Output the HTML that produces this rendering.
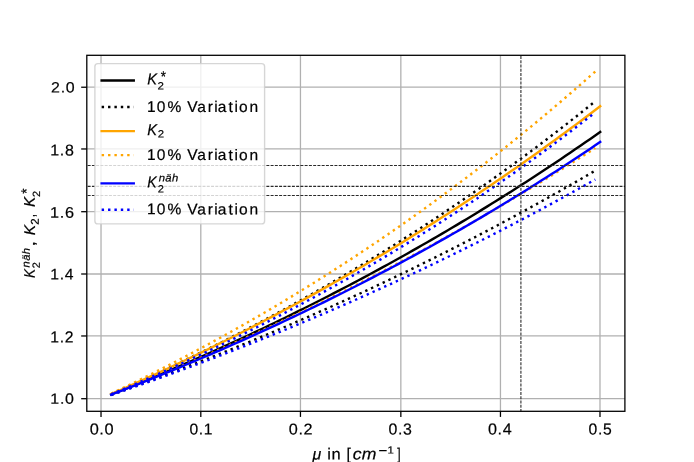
<!DOCTYPE html>
<html><head><meta charset="utf-8"><title>K2 vs mu</title>
<style>html,body{margin:0;padding:0;background:#fff;width:694px;height:462px;overflow:hidden}svg{display:block} svg{will-change:transform}text{font-family:"Liberation Sans",sans-serif;font-kerning:none;font-variant-ligatures:none}</style>
</head><body>
<svg width="694" height="462" viewBox="0 0 694 462" font-family='"Liberation Sans", sans-serif' text-rendering="geometricPrecision">
<defs><clipPath id="axclip"><rect x="86.8" y="55.3" width="538.1" height="356.0"/></clipPath></defs>
<rect width="694" height="462" fill="#fff"/>
<g>
<g stroke="#b0b0b0" stroke-width="1.285"><line x1="101.02" y1="55.3" x2="101.02" y2="411.3"/><line x1="200.80" y1="55.3" x2="200.80" y2="411.3"/><line x1="300.45" y1="55.3" x2="300.45" y2="411.3"/><line x1="400.84" y1="55.3" x2="400.84" y2="411.3"/><line x1="500.45" y1="55.3" x2="500.45" y2="411.3"/><line x1="599.99" y1="55.3" x2="599.99" y2="411.3"/><line x1="86.8" y1="398.70" x2="624.9" y2="398.70"/><line x1="86.8" y1="335.97" x2="624.9" y2="335.97"/><line x1="86.8" y1="274.00" x2="624.9" y2="274.00"/><line x1="86.8" y1="211.70" x2="624.9" y2="211.70"/><line x1="86.8" y1="148.97" x2="624.9" y2="148.97"/><line x1="86.8" y1="87.23" x2="624.9" y2="87.23"/></g><g clip-path="url(#axclip)"><polyline points="111.18,394.46 116.12,392.49 121.06,390.51 126.00,388.52 130.94,386.51 135.88,384.50 140.82,382.47 145.76,380.43 150.70,378.38 155.64,376.31 160.58,374.24 165.52,372.15 170.46,370.05 175.39,367.94 180.33,365.81 185.27,363.68 190.21,361.53 195.15,359.36 200.09,357.19 205.03,355.00 209.97,352.80 214.91,350.59 219.85,348.36 224.79,346.12 229.73,343.87 234.67,341.60 239.61,339.33 244.55,337.03 249.49,334.73 254.43,332.41 259.37,330.08 264.31,327.73 269.25,325.37 274.19,323.00 279.13,320.61 284.07,318.21 289.01,315.80 293.95,313.37 298.88,310.93 303.82,308.47 308.76,306.00 313.70,303.51 318.64,301.01 323.58,298.50 328.52,295.97 333.46,293.42 338.40,290.87 343.34,288.29 348.28,285.70 353.22,283.10 358.16,280.48 363.10,277.85 368.04,275.20 372.98,272.54 377.92,269.86 382.86,267.16 387.80,264.45 392.74,261.73 397.68,258.99 402.62,256.23 407.56,253.46 412.50,250.67 417.43,247.86 422.37,245.04 427.31,242.21 432.25,239.35 437.19,236.48 442.13,233.60 447.07,230.69 452.01,227.77 456.95,224.84 461.89,221.88 466.83,218.91 471.77,215.93 476.71,212.92 481.65,209.90 486.59,206.86 491.53,203.81 496.47,200.73 501.41,197.64 506.35,194.54 511.29,191.41 516.23,188.26 521.17,185.10 526.11,181.92 531.05,178.73 535.99,175.51 540.92,172.27 545.86,169.02 550.80,165.75 555.74,162.46 560.68,159.15 565.62,155.82 570.56,152.48 575.50,149.11 580.44,145.73 585.38,142.32 590.32,138.90 595.26,135.46 600.20,132.00" stroke="#000000" stroke-width="2.41" fill="none" stroke-linejoin="round" stroke-linecap="square"/><polyline points="111.18,394.07 116.12,391.91 121.06,389.73 126.00,387.54 130.94,385.33 135.88,383.11 140.82,380.87 145.76,378.63 150.70,376.36 155.64,374.08 160.58,371.79 165.52,369.48 170.46,367.16 175.39,364.83 180.33,362.47 185.27,360.11 190.21,357.72 195.15,355.33 200.09,352.91 205.03,350.49 209.97,348.04 214.91,345.58 219.85,343.11 224.79,340.62 229.73,338.11 234.67,335.59 239.61,333.05 244.55,330.50 249.49,327.92 254.43,325.34 259.37,322.73 264.31,320.11 269.25,317.48 274.19,314.82 279.13,312.15 284.07,309.46 289.01,306.76 293.95,304.04 298.88,301.30 303.82,298.54 308.76,295.77 313.70,292.98 318.64,290.17 323.58,287.34 328.52,284.50 333.46,281.63 338.40,278.75 343.34,275.85 348.28,272.94 353.22,270.00 358.16,267.05 363.10,264.08 368.04,261.08 372.98,258.07 377.92,255.05 382.86,252.00 387.80,248.93 392.74,245.84 397.68,242.74 402.62,239.61 407.56,236.47 412.50,233.30 417.43,230.12 422.37,226.92 427.31,223.69 432.25,220.45 437.19,217.18 442.13,213.90 447.07,210.59 452.01,207.27 456.95,203.92 461.89,200.55 466.83,197.16 471.77,193.75 476.71,190.32 481.65,186.87 486.59,183.39 491.53,179.90 496.47,176.38 501.41,172.84 506.35,169.28 511.29,165.70 516.23,162.09 521.17,158.47 526.11,154.82 531.05,151.14 535.99,147.45 540.92,143.73 545.86,139.99 550.80,136.22 555.74,132.43 560.68,128.62 565.62,124.79 570.56,120.93 575.50,117.05 580.44,113.14 585.38,109.21 590.32,105.26 595.26,101.28" stroke="#000000" stroke-width="2.41" fill="none" stroke-dasharray="2.41 3.975" stroke-dashoffset="0" stroke-linecap="butt"/><polyline points="111.18,394.86 116.12,393.09 121.06,391.32 126.00,389.53 130.94,387.74 135.88,385.94 140.82,384.12 145.76,382.30 150.70,380.47 155.64,378.63 160.58,376.78 165.52,374.92 170.46,373.05 175.39,371.17 180.33,369.28 185.27,367.38 190.21,365.47 195.15,363.55 200.09,361.62 205.03,359.68 209.97,357.73 214.91,355.77 219.85,353.81 224.79,351.83 229.73,349.84 234.67,347.84 239.61,345.83 244.55,343.81 249.49,341.78 254.43,339.73 259.37,337.68 264.31,335.62 269.25,333.55 274.19,331.46 279.13,329.37 284.07,327.26 289.01,325.15 293.95,323.02 298.88,320.89 303.82,318.74 308.76,316.58 313.70,314.41 318.64,312.22 323.58,310.03 328.52,307.83 333.46,305.61 338.40,303.39 343.34,301.15 348.28,298.90 353.22,296.64 358.16,294.37 363.10,292.08 368.04,289.79 372.98,287.48 377.92,285.16 382.86,282.83 387.80,280.49 392.74,278.13 397.68,275.77 402.62,273.39 407.56,271.00 412.50,268.59 417.43,266.18 422.37,263.75 427.31,261.31 432.25,258.86 437.19,256.40 442.13,253.92 447.07,251.43 452.01,248.93 456.95,246.42 461.89,243.89 466.83,241.35 471.77,238.80 476.71,236.23 481.65,233.65 486.59,231.06 491.53,228.46 496.47,225.84 501.41,223.21 506.35,220.56 511.29,217.91 516.23,215.24 521.17,212.55 526.11,209.86 531.05,207.14 535.99,204.42 540.92,201.68 545.86,198.93 550.80,196.16 555.74,193.39 560.68,190.59 565.62,187.79 570.56,184.96 575.50,182.13 580.44,179.28 585.38,176.42 590.32,173.54 595.26,170.65" stroke="#000000" stroke-width="2.41" fill="none" stroke-dasharray="2.41 3.975" stroke-dashoffset="0" stroke-linecap="butt"/><polyline points="111.18,394.07 116.12,391.91 121.06,389.74 126.00,387.55 130.94,385.35 135.88,383.14 140.82,380.92 145.76,378.68 150.70,376.42 155.64,374.16 160.58,371.88 165.52,369.58 170.46,367.28 175.39,364.96 180.33,362.62 185.27,360.27 190.21,357.91 195.15,355.54 200.09,353.15 205.03,350.74 209.97,348.32 214.91,345.89 219.85,343.44 224.79,340.98 229.73,338.50 234.67,336.01 239.61,333.51 244.55,330.99 249.49,328.45 254.43,325.90 259.37,323.34 264.31,320.76 269.25,318.17 274.19,315.56 279.13,312.93 284.07,310.29 289.01,307.64 293.95,304.97 298.88,302.28 303.82,299.58 308.76,296.86 313.70,294.13 318.64,291.38 323.58,288.61 328.52,285.83 333.46,283.04 338.40,280.23 343.34,277.40 348.28,274.55 353.22,271.69 358.16,268.81 363.10,265.92 368.04,263.01 372.98,260.08 377.92,257.14 382.86,254.18 387.80,251.20 392.74,248.21 397.68,245.20 402.62,242.17 407.56,239.12 412.50,236.06 417.43,232.98 422.37,229.89 427.31,226.77 432.25,223.64 437.19,220.49 442.13,217.32 447.07,214.14 452.01,210.94 456.95,207.72 461.89,204.48 466.83,201.22 471.77,197.95 476.71,194.65 481.65,191.34 486.59,188.01 491.53,184.67 496.47,181.30 501.41,177.92 506.35,174.51 511.29,171.09 516.23,167.65 521.17,164.19 526.11,160.71 531.05,157.21 535.99,153.69 540.92,150.16 545.86,146.60 550.80,143.02 555.74,139.43 560.68,135.81 565.62,132.18 570.56,128.53 575.50,124.85 580.44,121.16 585.38,117.44 590.32,113.71 595.26,109.96 600.20,106.18" stroke="#ffa500" stroke-width="2.41" fill="none" stroke-linejoin="round" stroke-linecap="square"/><polyline points="111.18,393.68 116.12,391.32 121.06,388.95 126.00,386.55 130.94,384.15 135.88,381.72 140.82,379.28 145.76,376.83 150.70,374.35 155.64,371.87 160.58,369.36 165.52,366.84 170.46,364.30 175.39,361.74 180.33,359.17 185.27,356.58 190.21,353.97 195.15,351.35 200.09,348.71 205.03,346.05 209.97,343.37 214.91,340.67 219.85,337.96 224.79,335.23 229.73,332.48 234.67,329.72 239.61,326.93 244.55,324.13 249.49,321.31 254.43,318.47 259.37,315.61 264.31,312.73 269.25,309.84 274.19,306.92 279.13,303.99 284.07,301.04 289.01,298.07 293.95,295.07 298.88,292.06 303.82,289.03 308.76,285.98 313.70,282.91 318.64,279.82 323.58,276.72 328.52,273.59 333.46,270.44 338.40,267.27 343.34,264.08 348.28,260.86 353.22,257.63 358.16,254.38 363.10,251.11 368.04,247.81 372.98,244.50 377.92,241.16 382.86,237.80 387.80,234.42 392.74,231.02 397.68,227.60 402.62,224.16 407.56,220.69 412.50,217.20 417.43,213.69 422.37,210.16 427.31,206.61 432.25,203.03 437.19,199.43 442.13,195.80 447.07,192.16 452.01,188.49 456.95,184.80 461.89,181.08 466.83,177.35 471.77,173.58 476.71,169.80 481.65,165.99 486.59,162.16 491.53,158.30 496.47,154.42 501.41,150.51 506.35,146.58 511.29,142.63 516.23,138.65 521.17,134.65 526.11,130.62 531.05,126.56 535.99,122.49 540.92,118.38 545.86,114.25 550.80,110.10 555.74,105.92 560.68,101.71 565.62,97.48 570.56,93.22 575.50,88.94 580.44,84.63 585.38,80.29 590.32,75.93 595.26,71.54" stroke="#ffa500" stroke-width="2.41" fill="none" stroke-dasharray="2.41 3.975" stroke-dashoffset="0" stroke-linecap="butt"/><polyline points="111.18,394.51 116.12,392.57 121.06,390.62 126.00,388.66 130.94,386.68 135.88,384.70 140.82,382.71 145.76,380.70 150.70,378.69 155.64,376.66 160.58,374.63 165.52,372.58 170.46,370.52 175.39,368.46 180.33,366.38 185.27,364.29 190.21,362.19 195.15,360.08 200.09,357.95 205.03,355.82 209.97,353.67 214.91,351.52 219.85,349.35 224.79,347.17 229.73,344.98 234.67,342.78 239.61,340.56 244.55,338.34 249.49,336.10 254.43,333.86 259.37,331.60 264.31,329.33 269.25,327.04 274.19,324.75 279.13,322.44 284.07,320.12 289.01,317.79 293.95,315.45 298.88,313.10 303.82,310.73 308.76,308.35 313.70,305.96 318.64,303.56 323.58,301.15 328.52,298.72 333.46,296.28 338.40,293.83 343.34,291.36 348.28,288.89 353.22,286.40 358.16,283.89 363.10,281.38 368.04,278.85 372.98,276.31 377.92,273.76 382.86,271.19 387.80,268.62 392.74,266.03 397.68,263.42 402.62,260.80 407.56,258.17 412.50,255.53 417.43,252.87 422.37,250.20 427.31,247.52 432.25,244.82 437.19,242.11 442.13,239.39 447.07,236.65 452.01,233.90 456.95,231.14 461.89,228.36 466.83,225.57 471.77,222.77 476.71,219.95 481.65,217.11 486.59,214.27 491.53,211.41 496.47,208.53 501.41,205.64 506.35,202.74 511.29,199.82 516.23,196.89 521.17,193.95 526.11,190.99 531.05,188.02 535.99,185.03 540.92,182.02 545.86,179.01 550.80,175.98 555.74,172.93 560.68,169.87 565.62,166.79 570.56,163.70 575.50,160.60 580.44,157.48 585.38,154.34 590.32,151.19 595.26,148.02" stroke="#ffa500" stroke-width="2.41" fill="none" stroke-dasharray="2.41 3.975" stroke-dashoffset="0" stroke-linecap="butt"/><polyline points="111.18,394.61 116.12,392.71 121.06,390.81 126.00,388.89 130.94,386.96 135.88,385.02 140.82,383.07 145.76,381.11 150.70,379.14 155.64,377.15 160.58,375.16 165.52,373.15 170.46,371.13 175.39,369.10 180.33,367.05 185.27,365.00 190.21,362.93 195.15,360.85 200.09,358.76 205.03,356.65 209.97,354.54 214.91,352.41 219.85,350.27 224.79,348.12 229.73,345.95 234.67,343.77 239.61,341.58 244.55,339.38 249.49,337.16 254.43,334.93 259.37,332.69 264.31,330.43 269.25,328.16 274.19,325.88 279.13,323.59 284.07,321.28 289.01,318.96 293.95,316.62 298.88,314.27 303.82,311.91 308.76,309.53 313.70,307.14 318.64,304.74 323.58,302.32 328.52,299.89 333.46,297.44 338.40,294.98 343.34,292.51 348.28,290.02 353.22,287.52 358.16,285.00 363.10,282.47 368.04,279.92 372.98,277.36 377.92,274.78 382.86,272.19 387.80,269.58 392.74,266.96 397.68,264.32 402.62,261.67 407.56,259.00 412.50,256.32 417.43,253.62 422.37,250.91 427.31,248.18 432.25,245.43 437.19,242.67 442.13,239.89 447.07,237.10 452.01,234.29 456.95,231.47 461.89,228.62 466.83,225.77 471.77,222.89 476.71,220.00 481.65,217.09 486.59,214.16 491.53,211.22 496.47,208.26 501.41,205.29 506.35,202.29 511.29,199.28 516.23,196.26 521.17,193.21 526.11,190.15 531.05,187.07 535.99,183.97 540.92,180.85 545.86,177.72 550.80,174.57 555.74,171.40 560.68,168.21 565.62,165.00 570.56,161.78 575.50,158.53 580.44,155.27 585.38,151.99 590.32,148.69 595.26,145.37 600.20,142.03" stroke="#0000ff" stroke-width="2.41" fill="none" stroke-linejoin="round" stroke-linecap="square"/><polyline points="111.18,394.26 116.12,392.19 121.06,390.11 126.00,388.01 130.94,385.90 135.88,383.78 140.82,381.64 145.76,379.49 150.70,377.33 155.64,375.15 160.58,372.95 165.52,370.75 170.46,368.52 175.39,366.29 180.33,364.04 185.27,361.77 190.21,359.49 195.15,357.20 200.09,354.89 205.03,352.56 209.97,350.22 214.91,347.87 219.85,345.50 224.79,343.11 229.73,340.71 234.67,338.30 239.61,335.87 244.55,333.42 249.49,330.96 254.43,328.48 259.37,325.98 264.31,323.47 269.25,320.94 274.19,318.40 279.13,315.84 284.07,313.26 289.01,310.67 293.95,308.05 298.88,305.43 303.82,302.78 308.76,300.12 313.70,297.44 318.64,294.75 323.58,292.03 328.52,289.30 333.46,286.55 338.40,283.79 343.34,281.00 348.28,278.20 353.22,275.38 358.16,272.54 363.10,269.68 368.04,266.81 372.98,263.91 377.92,261.00 382.86,258.07 387.80,255.12 392.74,252.15 397.68,249.16 402.62,246.15 407.56,243.12 412.50,240.08 417.43,237.01 422.37,233.92 427.31,230.82 432.25,227.69 437.19,224.54 442.13,221.38 447.07,218.19 452.01,214.98 456.95,211.75 461.89,208.50 466.83,205.23 471.77,201.94 476.71,198.63 481.65,195.30 486.59,191.94 491.53,188.56 496.47,185.16 501.41,181.74 506.35,178.30 511.29,174.83 516.23,171.35 521.17,167.84 526.11,164.30 531.05,160.75 535.99,157.17 540.92,153.57 545.86,149.94 550.80,146.30 555.74,142.63 560.68,138.93 565.62,135.21 570.56,131.47 575.50,127.70 580.44,123.91 585.38,120.09 590.32,116.25 595.26,112.39" stroke="#0000ff" stroke-width="2.41" fill="none" stroke-dasharray="2.41 3.975" stroke-dashoffset="0" stroke-linecap="butt"/><polyline points="111.18,395.01 116.12,393.31 121.06,391.61 126.00,389.90 130.94,388.18 135.88,386.45 140.82,384.72 145.76,382.97 150.70,381.21 155.64,379.45 160.58,377.68 165.52,375.89 170.46,374.10 175.39,372.30 180.33,370.49 185.27,368.67 190.21,366.84 195.15,365.00 200.09,363.15 205.03,361.29 209.97,359.42 214.91,357.54 219.85,355.65 224.79,353.76 229.73,351.85 234.67,349.93 239.61,348.00 244.55,346.07 249.49,344.12 254.43,342.16 259.37,340.19 264.31,338.21 269.25,336.23 274.19,334.23 279.13,332.22 284.07,330.20 289.01,328.17 293.95,326.13 298.88,324.08 303.82,322.01 308.76,319.94 313.70,317.86 318.64,315.76 323.58,313.66 328.52,311.54 333.46,309.42 338.40,307.28 343.34,305.13 348.28,302.97 353.22,300.80 358.16,298.62 363.10,296.42 368.04,294.22 372.98,292.00 377.92,289.77 382.86,287.53 387.80,285.28 392.74,283.02 397.68,280.75 402.62,278.46 407.56,276.16 412.50,273.85 417.43,271.53 422.37,269.20 427.31,266.85 432.25,264.49 437.19,262.12 442.13,259.74 447.07,257.35 452.01,254.94 456.95,252.52 461.89,250.09 466.83,247.64 471.77,245.19 476.71,242.72 481.65,240.24 486.59,237.74 491.53,235.23 496.47,232.71 501.41,230.18 506.35,227.63 511.29,225.07 516.23,222.50 521.17,219.91 526.11,217.31 531.05,214.70 535.99,212.07 540.92,209.43 545.86,206.78 550.80,204.11 555.74,201.43 560.68,198.74 565.62,196.03 570.56,193.30 575.50,190.57 580.44,187.82 585.38,185.05 590.32,182.27 595.26,179.48" stroke="#0000ff" stroke-width="2.41" fill="none" stroke-dasharray="2.41 3.975" stroke-dashoffset="0" stroke-linecap="butt"/></g><g stroke="#2a2a2a" stroke-width="1.1" stroke-dasharray="2.97 1.285"><line x1="86.8" y1="165.45" x2="624.9" y2="165.45" stroke-dashoffset="-0.85"/><line x1="86.8" y1="186.42" x2="624.9" y2="186.42" stroke-dashoffset="-0.85"/><line x1="86.8" y1="195.50" x2="624.9" y2="195.50" stroke-dashoffset="-0.85"/><line x1="520.91" y1="411.3" x2="520.91" y2="55.3" stroke-dashoffset="0.75"/></g><rect x="86.8" y="55.3" width="538.1" height="356.0" fill="none" stroke="#000" stroke-width="1.285" stroke-linejoin="miter"/><g stroke="#000" stroke-width="1.285"><line x1="101.02" y1="411.3" x2="101.02" y2="416.92"/><line x1="81.17999999999999" y1="398.70" x2="86.8" y2="398.70"/><line x1="200.80" y1="411.3" x2="200.80" y2="416.92"/><line x1="81.17999999999999" y1="335.97" x2="86.8" y2="335.97"/><line x1="300.45" y1="411.3" x2="300.45" y2="416.92"/><line x1="81.17999999999999" y1="274.00" x2="86.8" y2="274.00"/><line x1="400.84" y1="411.3" x2="400.84" y2="416.92"/><line x1="81.17999999999999" y1="211.70" x2="86.8" y2="211.70"/><line x1="500.45" y1="411.3" x2="500.45" y2="416.92"/><line x1="81.17999999999999" y1="148.97" x2="86.8" y2="148.97"/><line x1="599.99" y1="411.3" x2="599.99" y2="416.92"/><line x1="81.17999999999999" y1="87.23" x2="86.8" y2="87.23"/></g>
<g fill="#000" stroke="#000" stroke-width="0.2"><text x="-1.23 7.77 12.56" transform="translate(51.65,403.85) matrix(1,0.001,0,1,0,0) scale(1.0728,1.0000)" font-size="14.89">1.0</text><text x="-1.26 8.57 13.65" transform="translate(51.47,342.40) matrix(1,0.001,0,1,0,0) scale(0.9784,1.0000)" font-size="16.05">1.2</text><text x="-1.27 8.03 12.98" transform="translate(51.55,279.45) matrix(1,0.001,0,1,0,0) scale(1.0207,1.0000)" font-size="15.41">1.4</text><text x="-1.32 7.88 12.73" transform="translate(51.47,217.75) matrix(1,0.001,0,1,0,0) scale(1.0571,1.0000)" font-size="15.42">1.6</text><text x="-1.31 8.16 13.18" transform="translate(51.47,155.45) matrix(1,0.001,0,1,0,0) scale(1.0180,1.0000)" font-size="15.74">1.8</text><text x="-0.83 8.34 13.15" transform="translate(51.81,92.55) matrix(1,0.001,0,1,0,0) scale(1.0601,1.0000)" font-size="15.04">2.0</text><text x="-0.63 8.73 13.69" transform="translate(90.33,434.53) matrix(1,0.001,0,1,0,0) scale(1.0326,1.0000)" font-size="15.85">0.0</text><text x="-0.55 8.88 13.86" transform="translate(190.03,434.45) matrix(1,0.001,0,1,0,0) scale(0.9927,1.0000)" font-size="15.74">0.1</text><text x="-0.56 8.85 13.69" transform="translate(289.38,434.55) matrix(1,0.001,0,1,0,0) scale(1.0307,1.0000)" font-size="15.75">0.2</text><text x="-0.56 8.93 14.04" transform="translate(389.03,434.53) matrix(1,0.001,0,1,0,0) scale(1.0043,1.0000)" font-size="15.85">0.3</text><text x="-0.63 8.73 13.69" transform="translate(488.73,434.53) matrix(1,0.001,0,1,0,0) scale(1.0195,1.0000)" font-size="15.85">0.4</text><text x="-0.53 9.02 14.10" transform="translate(589.03,434.53) matrix(1,0.001,0,1,0,0) scale(0.9918,1.0000)" font-size="15.85">0.5</text></g>
<rect x="94.9" y="63.6" width="169.70000000000002" height="160.3" rx="3" fill="#fff" fill-opacity="0.8" stroke="#ccc" stroke-opacity="0.8" stroke-width="1.4"/><line x1="101.65" y1="80.53" x2="133.75" y2="80.53" stroke="#000000" stroke-width="2.41" stroke-linecap="square"/><line x1="101.65" y1="107.07" x2="133.75" y2="107.07" stroke="#000000" stroke-width="2.41" stroke-dasharray="2.41 3.975" stroke-dashoffset="0"/><line x1="101.65" y1="131.15" x2="133.75" y2="131.15" stroke="#ffa500" stroke-width="2.41" stroke-linecap="square"/><line x1="101.65" y1="155.09" x2="133.75" y2="155.09" stroke="#ffa500" stroke-width="2.41" stroke-dasharray="2.41 3.975" stroke-dashoffset="0"/><line x1="101.65" y1="183.4" x2="133.75" y2="183.4" stroke="#0000ff" stroke-width="2.41" stroke-linecap="square"/><line x1="101.65" y1="209.72" x2="133.75" y2="209.72" stroke="#0000ff" stroke-width="2.41" stroke-dasharray="2.41 3.975" stroke-dashoffset="0"/><g fill="#000" stroke="#000" stroke-width="0.2"><text transform="translate(147.14,84.51) matrix(1,0.001,0,1,0,0) scale(0.9226,1.0000)" font-size="15.90" font-style="italic">K</text><text transform="translate(157.58,89.55) matrix(1,0.001,0,1,0,0) scale(1.0872,1.0000)" font-size="10.60">2</text><text transform="translate(160.80,81.83) matrix(1,0.001,0,1,0,0) scale(1.0187,1.1630)" font-size="13.10">*</text><text x="-1.00 8.84 19.47 33.53 39.25 49.21 59.70 66.11 69.64 80.40 86.35 90.66 101.28" transform="translate(147.95,111.90) matrix(1,0.001,0,1,0,0) scale(1.0032,1.0000)" font-size="15.50">10% Variation</text><text transform="translate(147.36,135.23) matrix(1,0.001,0,1,0,0) scale(0.9263,1.0000)" font-size="15.90" font-style="italic">K</text><text transform="translate(157.72,137.49) matrix(1,0.001,0,1,0,0) scale(1.0748,1.0000)" font-size="10.60">2</text><text x="-1.00 8.84 19.47 33.53 39.25 49.21 59.70 66.11 69.64 80.40 86.35 90.66 101.28" transform="translate(147.95,160.05) matrix(1,0.001,0,1,0,0) scale(1.0032,1.0000)" font-size="15.50">10% Variation</text><text transform="translate(147.32,187.45) matrix(1,0.001,0,1,0,0) scale(0.8880,1.0000)" font-size="15.90" font-style="italic">K</text><text transform="translate(157.76,192.38) matrix(1,0.001,0,1,0,0) scale(1.0458,1.0000)" font-size="10.60">2</text><text x="-0.13 6.14 12.58" transform="translate(158.85,181.42) matrix(1,0.001,0,1,0,0) scale(1.0509,1.0000)" font-size="10.74" font-style="italic">näh</text><text x="-1.00 8.84 19.47 33.53 39.25 49.21 59.70 66.11 69.64 80.40 86.35 90.66 101.28" transform="translate(147.95,214.35) matrix(1,0.001,0,1,0,0) scale(1.0032,1.0000)" font-size="15.50">10% Variation</text></g>
<g fill="#000" stroke="#000" stroke-width="0.2"><text transform="translate(312.38,459.40) matrix(1,0.001,0,1,0,0) scale(1.0025,1.0000)" font-size="15.88" font-style="italic">μ</text><text x="-1.11 3.09" transform="translate(328.35,459.40) matrix(1,0.001,0,1,0,0) scale(1.0254,1.0000)" font-size="16.08">in</text><text transform="translate(346.44,459.40) matrix(1,0.001,0,1,0,0) scale(0.9539,1.0000)" font-size="16.35">[</text><text x="-0.66 7.83" transform="translate(353.45,459.40) matrix(1,0.001,0,1,0,0) scale(1.0723,1.0000)" font-size="16.45" font-style="italic">cm</text><text transform="translate(378.61,455.16) matrix(1,0.001,0,1,0,0) scale(1.0733,1.0000)" font-size="14.00">−</text><text transform="translate(387.58,453.55) matrix(1,0.001,0,1,0,0) scale(1.1013,1.0000)" font-size="10.32">1</text><text transform="translate(397.16,459.40) matrix(1,0.001,0,1,0,0) scale(0.7385,1.0000)" font-size="16.35">]</text></g>
<g fill="#000" stroke="#000" stroke-width="0.2"><g transform="translate(34.8,278.0) rotate(-90)"><text transform="translate(-0.07,0.00) matrix(1,0.001,0,1,0,0) scale(0.8937,1.0000)" font-size="15.30" font-style="italic">K</text><text transform="translate(9.70,4.95) matrix(1,0.001,0,1,0,0) scale(1.0453,1.0000)" font-size="10.50">2</text><text x="-0.13 6.13 12.56" transform="translate(10.75,-5.18) matrix(1,0.001,0,1,0,0) scale(1.0451,1.0000)" font-size="10.72" font-style="italic">näh</text><text transform="translate(31.51,0.00) matrix(1,0.001,0,1,0,0) scale(1.2176,1.0000)" font-size="15.90">,</text><text transform="translate(42.87,0.20) matrix(1,0.001,0,1,0,0) scale(0.9972,1.0000)" font-size="15.50" font-style="italic">K</text><text transform="translate(53.18,3.95) matrix(1,0.001,0,1,0,0) scale(1.0101,1.0000)" font-size="11.30">2</text><text transform="translate(60.85,0.00) matrix(1,0.001,0,1,0,0) scale(0.7690,1.0000)" font-size="15.90">,</text><text transform="translate(70.88,0.00) matrix(1,0.001,0,1,0,0) scale(0.9780,1.0000)" font-size="15.50" font-style="italic">K</text><text transform="translate(81.10,5.09) matrix(1,0.001,0,1,0,0) scale(1.0453,1.0000)" font-size="10.50">2</text><text transform="translate(84.13,-3.13) matrix(1,0.001,0,1,0,0) scale(0.8835,1.0000)" font-size="15.20">*</text></g></g>
</g>
</svg>
</body></html>
